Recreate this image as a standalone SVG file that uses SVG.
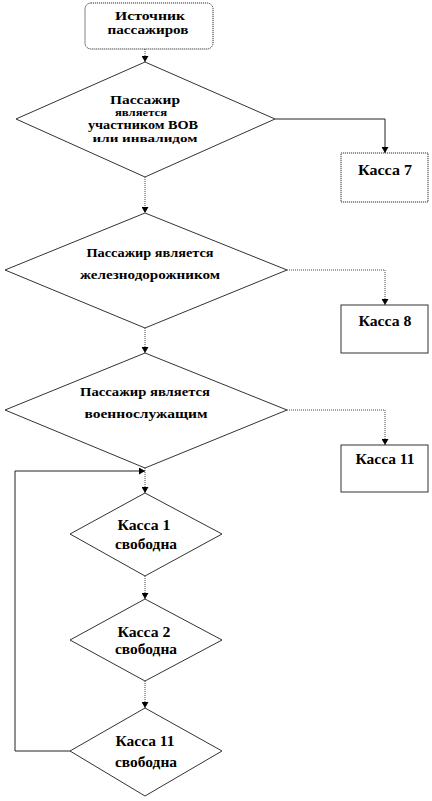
<svg xmlns="http://www.w3.org/2000/svg" width="432" height="801" viewBox="0 0 432 801">
<style>
.shape{fill:#fff;stroke:#333;stroke-width:1}
.dot{stroke-dasharray:1.2,0.8}
.t{font-family:"Liberation Serif","Times New Roman",serif;font-weight:bold;fill:#000;text-anchor:middle}
.c{fill:none;stroke:#222;stroke-width:1}
.cd{fill:none;stroke:#444;stroke-width:1;stroke-dasharray:1,1}
</style>
<defs>
<marker id="ah" markerWidth="6" markerHeight="7" refX="6" refY="3.5" orient="auto" markerUnits="userSpaceOnUse">
<path d="M0,0 L6,3.5 L0,7 z" fill="#000"/>
</marker>
</defs>
<rect width="432" height="801" fill="#fff"/>
<g id="connectors">
<path class="cd" d="M145,49 V62" marker-end="url(#ah)"/>
<path class="c" d="M275,119 H385 V153" marker-end="url(#ah)"/>
<path class="cd" d="M145,177 V213" marker-end="url(#ah)"/>
<path class="cd" d="M287,270 H385 V305" marker-end="url(#ah)"/>
<path class="cd" d="M145,328 V353" marker-end="url(#ah)"/>
<path class="cd" d="M287,410 H385 V445" marker-end="url(#ah)"/>
<path class="cd" d="M145,468 V493" marker-end="url(#ah)"/>
<path class="c" d="M70,751 H15 V471 H145" marker-end="url(#ah)"/>
<path class="cd" d="M145,576 V599" marker-end="url(#ah)"/>
<path class="cd" d="M145,681 V708" stroke-dasharray="1,3" marker-end="url(#ah)"/>
</g>
<g id="source">
<rect class="shape dot" x="85" y="3" width="128" height="46" rx="6"/>
<text class="t" x="150" y="20" font-size="12" textLength="70" lengthAdjust="spacingAndGlyphs">Источник</text>
<text class="t" x="148" y="34" font-size="12" textLength="81" lengthAdjust="spacingAndGlyphs">пассажиров</text>
</g>
<g id="d1">
<polygon class="shape" points="145,62 275,119 145,177 16,119"/>
<text class="t" x="145" y="104" font-size="12" textLength="70" lengthAdjust="spacingAndGlyphs">Пассажир</text>
<text class="t" x="141" y="116" font-size="11" textLength="52" lengthAdjust="spacingAndGlyphs">является</text>
<text class="t" x="143" y="129" font-size="13" textLength="110" lengthAdjust="spacingAndGlyphs">участником ВОВ</text>
<text class="t" x="145" y="142" font-size="11" textLength="105" lengthAdjust="spacingAndGlyphs">или инвалидом</text>
</g>
<g id="k7">
<rect class="shape dot" x="341" y="153" width="87" height="49"/>
<text class="t" x="385" y="175" font-size="15" textLength="54" lengthAdjust="spacingAndGlyphs">Касса 7</text>
</g>
<g id="d2">
<polygon class="shape" points="145,213 287,270 145,328 5,270"/>
<text class="t" x="150" y="257" font-size="13" textLength="127" lengthAdjust="spacingAndGlyphs">Пассажир является</text>
<text class="t" x="150" y="279" font-size="13" textLength="140" lengthAdjust="spacingAndGlyphs">железнодорожником</text>
</g>
<g id="k8">
<rect class="shape" x="341" y="305" width="87" height="48"/>
<text class="t" x="385" y="326" font-size="15" textLength="53" lengthAdjust="spacingAndGlyphs">Касса 8</text>
</g>
<g id="d3">
<polygon class="shape" points="145,353 287,410 145,468 5,410"/>
<text class="t" x="145" y="396" font-size="13" textLength="130" lengthAdjust="spacingAndGlyphs">Пассажир является</text>
<text class="t" x="146" y="418" font-size="13" textLength="123" lengthAdjust="spacingAndGlyphs">военнослужащим</text>
</g>
<g id="k11">
<rect class="shape" x="341" y="445" width="87" height="47"/>
<text class="t" x="385" y="464" font-size="15" textLength="59" lengthAdjust="spacingAndGlyphs">Касса 11</text>
</g>
<g id="d4">
<polygon class="shape" points="145,493 222,534 145,576 70,534"/>
<text class="t" x="144" y="530" font-size="15" textLength="53" lengthAdjust="spacingAndGlyphs">Касса 1</text>
<text class="t" x="146" y="549" font-size="14" textLength="62" lengthAdjust="spacingAndGlyphs">свободна</text>
</g>
<g id="d5">
<polygon class="shape" points="145,599 222,640 145,681 70,640"/>
<text class="t" x="144" y="637" font-size="15" textLength="53" lengthAdjust="spacingAndGlyphs">Касса 2</text>
<text class="t" x="146" y="654" font-size="14" textLength="62" lengthAdjust="spacingAndGlyphs">свободна</text>
</g>
<g id="d6">
<polygon class="shape" points="145,708 222,751 145,796 70,751"/>
<text class="t" x="145" y="746" font-size="15" textLength="59" lengthAdjust="spacingAndGlyphs">Касса 11</text>
<text class="t" x="146" y="767" font-size="14" textLength="62" lengthAdjust="spacingAndGlyphs">свободна</text>
</g>
</svg>
